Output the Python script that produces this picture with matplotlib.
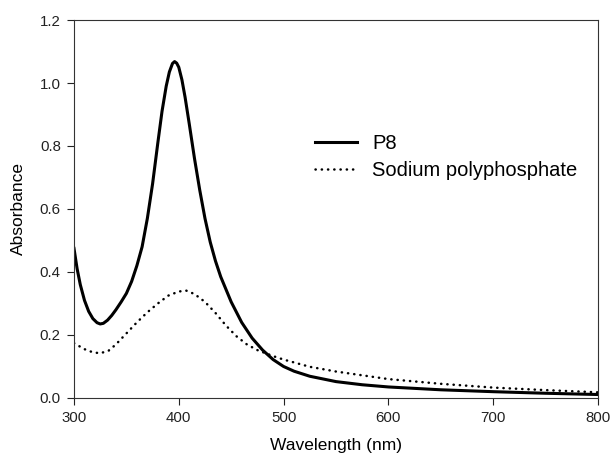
import matplotlib
matplotlib.use("Agg")
import matplotlib.pyplot as plt

plt.rcParams['font.family'] = ['Liberation Sans', 'DejaVu Sans']

# absorbance spectra, read point by point
wl_p8 = [300, 303, 306, 310, 314, 318, 322, 325, 328, 332, 336, 340, 345,
         350, 355, 360, 365, 370, 375, 380, 384, 388, 391, 394, 396, 398,
         400, 403, 406, 410, 415, 420, 425, 430, 435, 440, 450, 460, 470,
         480, 490, 500, 510, 525, 550, 575, 600, 650, 700, 750, 800]
abs_p8 = [0.475, 0.41, 0.36, 0.31, 0.275, 0.252, 0.239, 0.235, 0.237, 0.247,
          0.262, 0.28, 0.305, 0.332, 0.37, 0.42, 0.48, 0.57, 0.68, 0.81,
          0.91, 0.99, 1.035, 1.062, 1.068, 1.063, 1.05, 1.01, 0.955, 0.87,
          0.76, 0.66, 0.57, 0.495, 0.435, 0.385, 0.305, 0.24, 0.19, 0.152,
          0.122, 0.1, 0.085, 0.069, 0.052, 0.042, 0.035, 0.026, 0.02, 0.015,
          0.011]

wl_sp = [300, 310, 318, 325, 333, 340, 350, 360, 370, 380, 390, 400, 407,
         415, 425, 435, 445, 455, 465, 475, 490, 500, 525, 550, 600, 650,
         700, 750, 800]
abs_sp = [0.174, 0.155, 0.145, 0.142, 0.15, 0.17, 0.205, 0.24, 0.272, 0.3,
          0.325, 0.338, 0.341, 0.33, 0.305, 0.27, 0.23, 0.196, 0.17, 0.152,
          0.133, 0.122, 0.099, 0.084, 0.06, 0.045, 0.033, 0.025, 0.018]

fig = plt.figure(figsize=(6.13, 4.61), dpi=100)
ax = fig.add_axes([0.1207, 0.1367, 0.8548, 0.8199])

ax.plot(wl_p8, abs_p8, color='black', lw=2.2, label='P8',
        solid_joinstyle='round')
ax.plot(wl_sp, abs_sp, color='black', lw=1.8, ls=(0, (0.1, 2.4)),
        dash_capstyle='round', label='Sodium polyphosphate')

ax.set_xlim(300, 800)
ax.set_ylim(0, 1.2)
ax.set_xticks([300, 400, 500, 600, 700, 800])
ax.set_yticks([0.0, 0.2, 0.4, 0.6, 0.8, 1.0, 1.2])
ax.set_yticklabels(['0.0', '0.2', '0.4', '0.6', '0.8', '1.0', '1.2'])
ax.tick_params(direction='out', length=5, width=0.8, labelsize=10.8,
               colors='#222222', pad=4.5)
for s in ax.spines.values():
    s.set_linewidth(0.8)
    s.set_color('#333333')

ax.set_xlabel('Wavelength (nm)', fontsize=12.5, labelpad=9)
ax.set_ylabel('Absorbance', fontsize=12.5, labelpad=10)

ax.legend(loc='upper left', bbox_to_anchor=(0.44, 0.725), frameon=False,
          fontsize=14.5, handlelength=2.1, handletextpad=0.75,
          labelspacing=0.42, borderpad=0)

fig.savefig('out.png', dpi=100)
